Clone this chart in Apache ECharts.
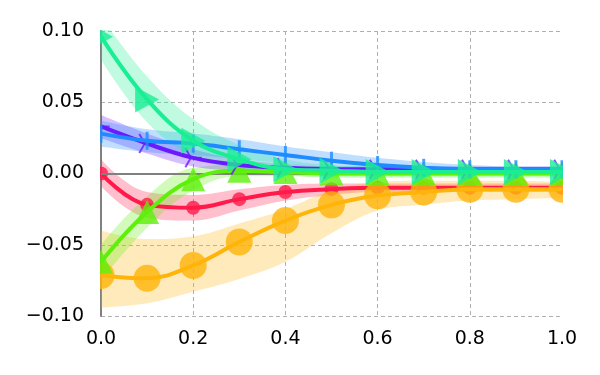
<!DOCTYPE html>
<html>
<head>
<meta charset="utf-8">
<script src="https://cdn.jsdelivr.net/npm/echarts@6/dist/echarts.min.js"></script>
<style>
  html, body { margin: 0; padding: 0; background: #fff; }
  #chart { width: 600px; height: 375px; }
</style>
</head>
<body>
<div id="chart"></div>
<script>
// x 位置
var xs = [0, 0.1, 0.2, 0.3, 0.4, 0.5, 0.6, 0.7, 0.8, 0.9, 1.0];

// 红色 (小圆点)
var redMean = [0.000, -0.022, -0.024, -0.018, -0.013, -0.011, -0.010, -0.010, -0.010, -0.010, -0.010];
var redLo   = [-0.009, -0.031, -0.033, -0.026, -0.019, -0.015, -0.013, -0.013, -0.013, -0.013, -0.013];
var redHi   = [0.010, -0.013, -0.015, -0.011, -0.008, -0.007, -0.007, -0.007, -0.007, -0.007, -0.007];

// 橙色 (大圆点)
var orangeMean = [-0.0715, -0.0735, -0.0645, -0.048, -0.033, -0.022, -0.0155, -0.013, -0.011, -0.011, -0.011];
var orangeLo   = [-0.094, -0.091, -0.083, -0.074, -0.062, -0.042, -0.026, -0.022, -0.019, -0.018, -0.017];
var orangeHi   = [-0.040, -0.046, -0.044, -0.035, -0.025, -0.012, -0.006, -0.005, -0.005, -0.005, -0.006];

// 浅绿 (上三角)
var greenMean = [-0.062, -0.027, -0.004, 0.002, 0.001, 0.000, 0.000, 0.000, 0.000, 0.000, 0.000];
var greenLo   = [-0.075, -0.038, -0.012, -0.002, -0.002, -0.003, -0.003, -0.003, -0.003, -0.003, -0.003];
var greenHi   = [-0.050, -0.016, 0.004, 0.006, 0.004, 0.003, 0.003, 0.003, 0.003, 0.003, 0.003];

// 紫色 (三叉)
var purpleMean = [0.033, 0.021, 0.011, 0.006, 0.004, 0.003, 0.003, 0.003, 0.003, 0.003, 0.003];
var purpleLo   = [0.025, 0.014, 0.005, 0.002, 0.001, 0.001, 0.001, 0.001, 0.001, 0.001, 0.001];
var purpleHi   = [0.041, 0.028, 0.017, 0.010, 0.007, 0.005, 0.005, 0.005, 0.005, 0.005, 0.005];

// 蓝色 (竖线)
var blueMean = [0.028, 0.023, 0.021, 0.017, 0.013, 0.009, 0.006, 0.004, 0.003, 0.003, 0.003];
var blueLo   = [0.019, 0.015, 0.013, 0.010, 0.007, 0.004, 0.002, 0.001, 0.001, 0.001, 0.001];
var blueHi   = [0.037, 0.031, 0.028, 0.024, 0.019, 0.015, 0.011, 0.008, 0.006, 0.005, 0.005];

// 青绿 (右三角)
var tealMean = [0.096, 0.052, 0.023, 0.010, 0.003, 0.002, 0.001, 0.001, 0.001, 0.001, 0.001];
var tealLo   = [0.080, 0.036, 0.012, 0.003, -0.001, -0.002, -0.002, -0.002, -0.002, -0.002, -0.002];
var tealHi   = [0.110, 0.068, 0.038, 0.020, 0.010, 0.006, 0.005, 0.004, 0.004, 0.004, 0.004];

var yTicks = [-0.1, -0.05, 0, 0.05, 0.1];

function diff(lo, hi) {
    return lo.map(function (v, i) { return hi[i] - v; });
}

// 三叉标记 (tri_right)
function triPath() {
    var w = 0.09, s = '';
    [0, 120, 240].forEach(function (deg) {
        var a = deg * Math.PI / 180;
        var dx = Math.cos(a), dy = Math.sin(a);
        var nx = -dy * w, ny = dx * w;
        var p = [[nx, ny], [nx + dx, ny + dy], [-nx + dx, -ny + dy], [-nx, -ny]];
        s += 'M' + p.map(function (q) { return q[0].toFixed(3) + ' ' + q[1].toFixed(3); }).join(' L') + ' Z ';
    });
    return 'path://' + s;
}

// 置信带
function band(name, lo, hi, color) {
    return [{
        name: name + '_lo',
        type: 'line',
        data: lo,
        stack: name,
        stackStrategy: 'all',
        smooth: 0.4,
        symbol: 'none',
        lineStyle: { opacity: 0 },
        silent: true,
        z: 1
    }, {
        name: name + '_band',
        type: 'line',
        data: diff(lo, hi),
        stack: name,
        stackStrategy: 'all',
        smooth: 0.4,
        symbol: 'none',
        lineStyle: { opacity: 0 },
        areaStyle: { color: color, opacity: 0.28 },
        silent: true,
        z: 1
    }];
}

function mainLine(name, mean, color, symbol, size, z) {
    return {
        name: name,
        type: 'line',
        data: mean,
        smooth: 0.4,
        symbol: symbol,
        symbolSize: size,
        symbolKeepAspect: true,
        showAllSymbol: true,
        lineStyle: { color: color, width: 4 },
        itemStyle: { color: color, opacity: 0.8 },
        z: z
    };
}

var chart = echarts.init(document.getElementById('chart'));

var series = [].concat(
    band('red', redLo, redHi, '#ff1a4a'),
    band('orange', orangeLo, orangeHi, '#ffb40a'),
    band('green', greenLo, greenHi, '#5ef00a'),
    band('purple', purpleLo, purpleHi, '#6a1aff'),
    band('blue', blueLo, blueHi, '#1e8cff'),
    band('teal', tealLo, tealHi, '#1aee95')
);

series.push({
    name: 'zero',
    type: 'line',
    data: [],
    markLine: {
        silent: true,
        symbol: 'none',
        label: { show: false },
        lineStyle: { color: '#808080', type: 'solid', width: 2 },
        data: [{ yAxis: 0 }]
    },
    z: 2
});

series.push(mainLine('red', redMean, '#ff1a4a', 'circle', 14, 3));
series.push(mainLine('orange', orangeMean, '#ffb40a', 'circle', 27, 4));
series.push(mainLine('green', greenMean, '#5ef00a', 'triangle', 24, 5));
series.push(mainLine('purple', purpleMean, '#6a1aff', triPath(), 20, 6));
series.push(mainLine('blue', blueMean, '#1e8cff', 'rect', [3, 18], 7));
series.push(mainLine('teal', tealMean, '#1aee95', 'path://M0 0 L1 0.5 L0 1 Z', [24, 26], 8));

var option = {
    animation: false,
    backgroundColor: '#fff',
    grid: { left: 101, right: 38, top: 31, bottom: 59 },
    // 遮住绘图区外的标记 (模拟裁剪)
    graphic: [
        { type: 'rect', left: 84, top: 0, z: 100, silent: true,
          shape: { width: 16, height: 322 }, style: { fill: '#fff' } },
        { type: 'rect', left: 84, top: 0, z: 100, silent: true,
          shape: { width: 516, height: 30 }, style: { fill: '#fff' } },
        { type: 'rect', left: 563, top: 0, z: 100, silent: true,
          shape: { width: 37, height: 322 }, style: { fill: '#fff' } }
    ],
    xAxis: {
        type: 'category',
        data: xs.map(function (v) { return v.toFixed(1); }),
        boundaryGap: false,
        axisLine: { show: false },
        axisTick: { show: false },
        axisLabel: {
            interval: 1,
            fontFamily: 'DejaVu Sans',
            fontSize: 19,
            color: '#000',
            margin: 14
        },
        splitLine: {
            show: true,
            interval: 1,
            showMaxLine: false,
            lineStyle: { color: '#b0b0b0', type: [4, 3], width: 1 }
        }
    },
    yAxis: {
        type: 'value',
        min: yTicks[0],
        max: yTicks[yTicks.length - 1],
        interval: 0.05,
        axisLine: { show: true, onZero: false, lineStyle: { color: '#808080', width: 2 } },
        axisTick: { show: false },
        axisLabel: {
            fontFamily: 'DejaVu Sans',
            fontSize: 19,
            color: '#000',
            margin: 17,
            formatter: function (v) { return v.toFixed(2).replace('-', '\u2212'); }
        },
        splitLine: {
            show: true,
            lineStyle: { color: '#b0b0b0', type: [4, 3], width: 1 }
        }
    },
    series: series
};

chart.setOption(option);
</script>
</body>
</html>
